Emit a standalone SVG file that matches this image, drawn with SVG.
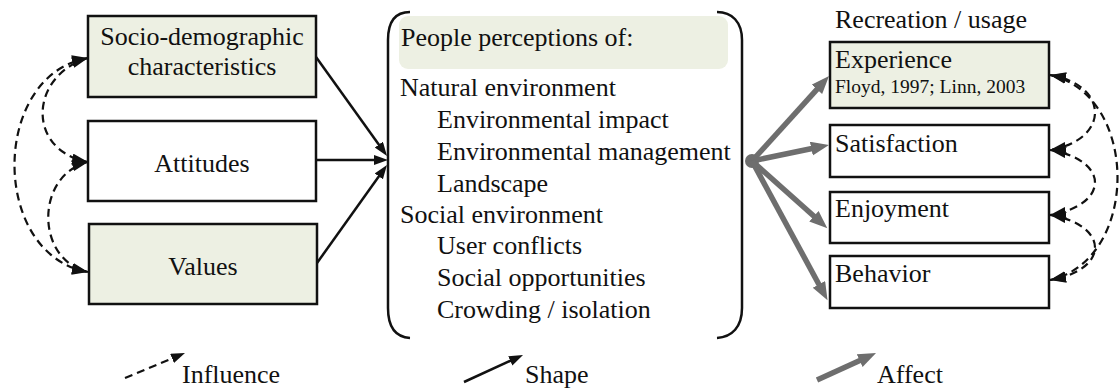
<svg xmlns="http://www.w3.org/2000/svg" width="1120" height="390" viewBox="0 0 1120 390">
  <style>
    text { font-family: "Liberation Serif", "Times New Roman", serif; font-size: 26px; fill: #111; }
    .box { stroke: #111; stroke-width: 2.5; fill: #ffffff; }
    .tint { fill: #edf0e3; }
    .mid { text-anchor: middle; }
    .small { font-size: 19.5px; }
    .bracket { fill: none; stroke: #111; stroke-width: 2.5; }
    .influence { fill: none; stroke: #111; stroke-width: 2.2; stroke-dasharray: 8 5; marker-start: url(#dashHead); marker-end: url(#dashHead); }
    .shape { fill: none; stroke: #111; stroke-width: 2.5; marker-end: url(#blackHead); }
    .affect { fill: none; stroke: #6e6e6e; stroke-width: 5.5; marker-end: url(#grayHead); }
  </style>
  <defs>
    <marker id="dashHead" markerUnits="userSpaceOnUse" markerWidth="18" markerHeight="13" refX="16" refY="5.5" orient="auto-start-reverse">
      <path d="M0,0 L16,5.5 L0,11 z" fill="#111"/>
    </marker>
    <marker id="blackHead" markerUnits="userSpaceOnUse" markerWidth="16" markerHeight="12" refX="2" refY="5" orient="auto">
      <path d="M0,0 L14,5 L0,10 z" fill="#111"/>
    </marker>
    <marker id="grayHead" markerUnits="userSpaceOnUse" markerWidth="20" markerHeight="16" refX="2" refY="7" orient="auto">
      <path d="M0,0 L18,7 L0,14 z" fill="#6e6e6e"/>
    </marker>
  </defs>

  <!-- Left column: personal factors -->
  <g id="socio">
    <rect class="box tint" x="88" y="16" width="228" height="81"/>
    <text class="mid" x="202" y="45">Socio-demographic</text>
    <text class="mid" x="202" y="75">characteristics</text>
  </g>
  <g id="attitudes">
    <rect class="box" x="88" y="121" width="228" height="80"/>
    <text class="mid" x="202" y="172">Attitudes</text>
  </g>
  <g id="values">
    <rect class="box tint" x="89" y="224" width="228" height="80"/>
    <text class="mid" x="203" y="275">Values</text>
  </g>

  <!-- Centre: perceptions -->
  <g id="perceptions">
    <path class="bracket" d="M410 12 C395 12 388 22 388 40 V308 C388 327 395 337 410 338"/>
    <path class="bracket" d="M717 12 C732 12 742 22 742 40 V308 C742 327 732 337 717 338"/>
    <rect class="tint" x="399" y="16" width="329" height="53" rx="9"/>
    <text x="401" y="46">People perceptions of:</text>
    <text x="400" y="96">Natural environment</text>
    <text x="437" y="128">Environmental impact</text>
    <text x="437" y="160">Environmental management</text>
    <text x="437" y="192">Landscape</text>
    <text x="400" y="223">Social environment</text>
    <text x="437" y="254">User conflicts</text>
    <text x="437" y="286">Social opportunities</text>
    <text x="437" y="318">Crowding / isolation</text>
  </g>

  <!-- Right column: outcomes -->
  <g id="recreation">
    <text x="835" y="28">Recreation / usage</text>
  </g>
  <g id="experience">
    <rect class="box tint" x="830" y="42" width="219" height="66"/>
    <text x="835" y="68">Experience</text>
    <text class="small" x="835" y="93">Floyd, 1997; Linn, 2003</text>
  </g>
  <g id="satisfaction">
    <rect class="box" x="830" y="125" width="219" height="52"/>
    <text x="835" y="152">Satisfaction</text>
  </g>
  <g id="enjoyment">
    <rect class="box" x="830" y="192" width="219" height="51"/>
    <text x="835" y="217">Enjoyment</text>
  </g>
  <g id="behavior">
    <rect class="box" x="830" y="256" width="219" height="52"/>
    <text x="835" y="282">Behavior</text>
  </g>

  <!-- Connectors -->
  <g id="connectors">
    <!-- influence among personal factors -->
    <path class="influence" d="M88 58 C-10 75 -10 255 88 272"/>
    <path class="influence" d="M88 58 C30 75 25 150 88 162"/>
    <path class="influence" d="M88 162 C35 175 35 260 88 272"/>
    <!-- influence among outcomes -->
    <path class="influence" d="M1050 75 C1140 95 1140 260 1050 280"/>
    <path class="influence" d="M1050 75 C1110 85 1110 140 1050 150"/>
    <path class="influence" d="M1050 150 C1110 160 1110 205 1050 215"/>
    <path class="influence" d="M1050 215 C1110 225 1110 270 1050 280"/>
    <!-- factors shape perceptions -->
    <path class="shape" d="M316 57 L380 146.2"/>
    <path class="shape" d="M316 160 L376 160"/>
    <path class="shape" d="M317 263 L380 174.8"/>
    <!-- perceptions affect outcomes -->
    <circle cx="752" cy="161" r="7" fill="#6e6e6e"/>
    <path class="affect" d="M752 161 L818.3 87.9"/>
    <path class="affect" d="M752 161 L813.3 148.3"/>
    <path class="affect" d="M752 161 L815.4 217.5"/>
    <path class="affect" d="M752 161 L819.9 286.2"/>
  </g>

  <!-- Legend -->
  <g id="legend">
    <path fill="none" stroke="#111" stroke-width="2.2" stroke-dasharray="8 5" marker-end="url(#blackHead)" d="M125 378 L173.9 357.6"/>
    <text x="182" y="383">Influence</text>
    <path class="shape" d="M464 382 L512.1 360"/>
    <text x="525" y="383">Shape</text>
    <path class="affect" d="M817 380 L861.5 359.7"/>
    <text x="877" y="383">Affect</text>
  </g>
</svg>
